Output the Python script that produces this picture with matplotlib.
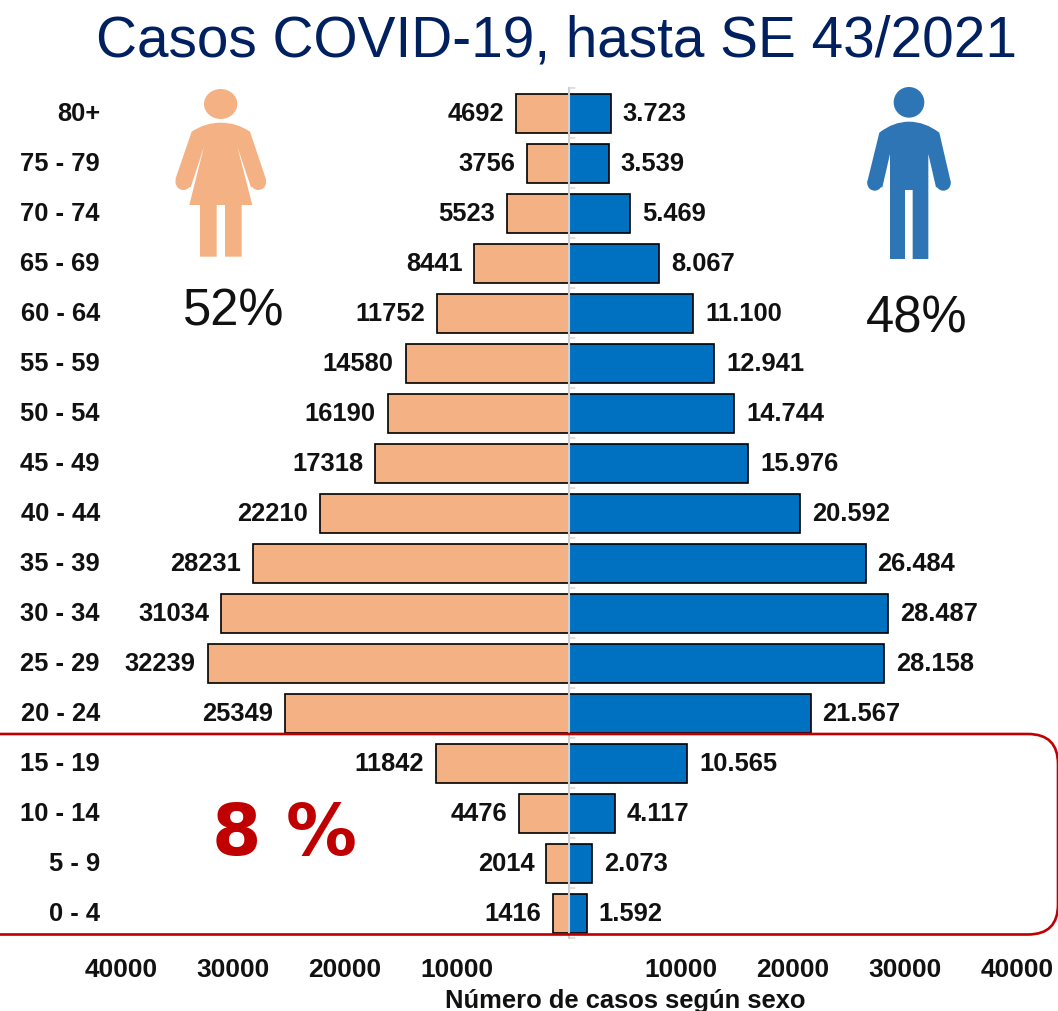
import matplotlib
matplotlib.use('Agg')
from matplotlib import pyplot as plt
from matplotlib.patches import Circle, Ellipse, FancyBboxPatch, PathPatch
from matplotlib.path import Path

W, H = 1058, 1011
PEACH = '#F4B183'
BLUE = '#0070C0'
ICON_BLUE = '#2E75B6'
RED = '#C00000'
NAVY = '#002060'
INK = '#111111'
LABEL_SIZE = 18.4

ages = ['80+', '75 - 79', '70 - 74', '65 - 69', '60 - 64', '55 - 59', '50 - 54', '45 - 49', '40 - 44',
        '35 - 39', '30 - 34', '25 - 29', '20 - 24', '15 - 19', '10 - 14', '5 - 9', '0 - 4']
female = [4692, 3756, 5523, 8441, 11752, 14580, 16190, 17318, 22210,
          28231, 31034, 32239, 25349, 11842, 4476, 2014, 1416]
male = [3723, 3539, 5469, 8067, 11100, 12941, 14744, 15976, 20592,
        26484, 28487, 28158, 21567, 10565, 4117, 2073, 1592]
x_ticks = [-40000, -30000, -20000, -10000, 10000, 20000, 30000, 40000]

plt.rcParams['font.family'] = ['Liberation Sans', 'DejaVu Sans']


def silhouette(ax, points, origin, color):
	"""Draw a body outline given as (code, x, y) in 3x zoom coordinates."""
	verts = [(origin[0] + x / 3, origin[1] + y / 3) for _, x, y in points]
	codes = [c for c, _, _ in points]
	ax.add_patch(PathPatch(Path(verts, codes), facecolor=color, edgecolor='none', zorder=2))


fig = plt.figure(figsize=(W / 100, H / 100), dpi=100)

# axes span the 40000 ticks horizontally and the 17 rows vertically
ax = fig.add_axes([121 / W, 1 - 938 / H, (1017 - 121) / W, 850 / H])
rows = list(range(len(ages)))
ax.barh(rows, [-v for v in female], height=0.78, color=PEACH, edgecolor='black', linewidth=1.2, zorder=2)
ax.barh(rows, male, height=0.78, color=BLUE, edgecolor='black', linewidth=1.2, zorder=2)
ax.set_xlim(-40000, 40000)
ax.set_ylim(len(ages) - 0.5, -0.5)

for s in ['top', 'right', 'bottom']:
	ax.spines[s].set_visible(False)
ax.spines['left'].set_position(('data', 0))
ax.spines['left'].set_color('#D0D0D0')
ax.spines['left'].set_linewidth(1.5)
ax.spines['left'].set_zorder(5)
ax.set_yticks([r - 0.5 for r in rows] + [rows[-1] + 0.5])
ax.tick_params(axis='y', left=False, labelleft=False, length=0)
for r in ax.get_yticks():
	ax.annotate('', (0, r), xytext=(6, 0), textcoords='offset pixels',
		arrowprops=dict(arrowstyle='-', color='#C8C8C8', lw=0.8, shrinkA=0, shrinkB=0), zorder=1)

ax.set_xticks(x_ticks, [str(abs(t)) for t in x_ticks])
ax.tick_params(axis='x', length=0, pad=14.5, labelsize=19)
for t in ax.get_xticklabels():
	t.set_fontweight('bold')
	t.set_color(INK)

for r, age, f, m in zip(rows, ages, female, male):
	ax.annotate(age, (-40000, r), xytext=(-21, -1), textcoords='offset pixels', ha='right', va='center',
		fontsize=LABEL_SIZE, fontweight='bold', color=INK, annotation_clip=False)
	ax.annotate(str(f), (-f, r), xytext=(-12, -1), textcoords='offset pixels', ha='right', va='center',
		fontsize=LABEL_SIZE, fontweight='bold', color=INK)
	ax.annotate(f'{m:,}'.replace(',', '.'), (m, r), xytext=(12, -1), textcoords='offset pixels', ha='left',
		va='center', fontsize=LABEL_SIZE, fontweight='bold', color=INK)

# overlay in image pixels for the title, icons and callout
over = fig.add_axes([0, 0, 1, 1])
over.set_xlim(0, W)
over.set_ylim(H, 0)
over.axis('off')
over.patch.set_alpha(0)

over.text(556, 41, 'Casos COVID-19, hasta SE 43/2021', ha='center', va='center', fontsize=40.9, color=NAVY)
over.text(625, 1001, 'Número de casos según sexo', ha='center', va='center', fontsize=18.4, fontweight='bold',
	color=INK)

M, L, C = Path.MOVETO, Path.LINETO, Path.CURVE3
woman = [
	(M, 125, 155), (C, 165, 128), (C, 212, 128), (C, 260, 128), (C, 300, 155), (L, 347, 295),
	(L, 347, 310), (L, 303, 322), (L, 262, 200), (L, 307, 375), (L, 275, 375), (L, 275, 530),
	(L, 225, 530), (L, 225, 375), (L, 200, 375), (L, 200, 530), (L, 150, 530), (L, 150, 375),
	(L, 118, 375), (L, 162, 200), (L, 122, 322), (L, 77, 310), (L, 77, 295), (L, 125, 155),
]
silhouette(over, woman, (150, 80), PEACH)
over.add_patch(Circle((150 + 100 / 3, 80 + 307 / 3), 23 / 3, color=PEACH, lw=0, zorder=2))
over.add_patch(Circle((150 + 325 / 3, 80 + 307 / 3), 23 / 3, color=PEACH, lw=0, zorder=2))
over.add_patch(Ellipse((150 + 212 / 3, 80 + 72 / 3), 100 / 3, 90 / 3, color=PEACH, lw=0, zorder=2))

man = [
	(M, 118, 158), (C, 160, 125), (C, 207, 125), (C, 255, 125), (C, 298, 158), (L, 332, 305),
	(L, 330, 315), (L, 288, 322), (L, 265, 222), (L, 265, 537), (L, 218, 537), (L, 218, 330),
	(L, 195, 330), (L, 195, 537), (L, 150, 537), (L, 150, 222), (L, 127, 322), (L, 84, 315),
	(L, 82, 305), (L, 118, 158),
]
silhouette(over, man, (840, 80), ICON_BLUE)
over.add_patch(Circle((840 + 104 / 3, 80 + 310 / 3), 22 / 3, color=ICON_BLUE, lw=0, zorder=2))
over.add_patch(Circle((840 + 310 / 3, 80 + 310 / 3), 22 / 3, color=ICON_BLUE, lw=0, zorder=2))
over.add_patch(Circle((840 + 207 / 3, 80 + 67 / 3), 46 / 3, color=ICON_BLUE, lw=0, zorder=2))

over.text(233.5, 312, '52%', ha='center', va='center', fontsize=36.5, color=INK)
over.text(917, 319, '48%', ha='center', va='center', fontsize=36.5, color=INK)

over.add_patch(FancyBboxPatch((-60, 734), 1118, 200.5, boxstyle='round,pad=0,rounding_size=30',
	facecolor='none', edgecolor=RED, linewidth=1.9, clip_on=True))
over.text(284, 836, '8 %', ha='center', va='center', fontsize=51, fontweight='bold', color=RED,
	family=['DejaVu Sans'])

fig.savefig('out.png', dpi=100)
